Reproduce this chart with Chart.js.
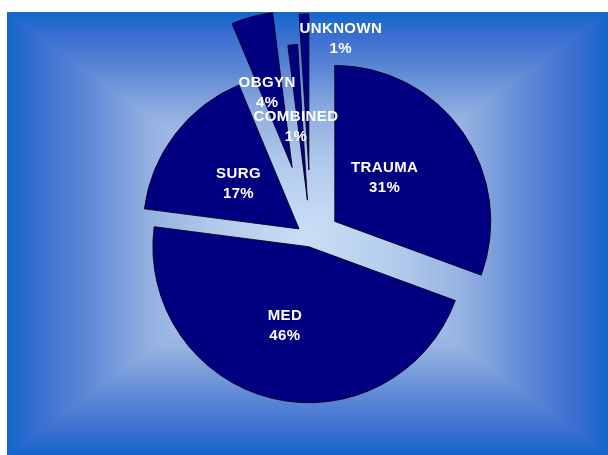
<!DOCTYPE html>
<html>
<head>
<meta charset="utf-8">
<script src="https://cdn.jsdelivr.net/npm/chart.js"></script>
<style>
  html, body { margin: 0; padding: 0; background: #ffffff; }
  body { width: 608px; height: 455px; position: relative; overflow: hidden; }
  #wrap { position: absolute; left: 7px; top: 12px; width: 601px; height: 443px; }
</style>
</head>
<body>
<div id="wrap"><canvas id="c"></canvas></div>
<script>
// ---- data ----
const categories = ["TRAUMA", "MED", "SURG", "OBGYN", "COMBINED", "UNKNOWN"];
const shares = [30.6, 46.45, 16.65, 4.3, 1.0, 1.0];

// ---- styles ----
const explodePx = [29, 9, 15, 73, 38, 68];
const labelDist = [66, 83, 75.7, 78.8, 73.8, 135];
const labelShiftDeg = [-6.0, 3.0, -0.5, -3.6, -3.5, 15.5];
const sliceColor = "#000080";

// Explode slices as a pure shift (no radius growth / angle shrink)
const ArcEl = Chart.ArcElement || (Chart.elements && Chart.elements.ArcElement);
const baseArcDraw = ArcEl.prototype.draw;
ArcEl.prototype.draw = function (ctx) {
  const opts = this.options;
  const o = (opts.offset || 0) / 4;
  const mid = (this.startAngle + this.endAngle) / 2;
  ctx.save();
  ctx.translate(Math.cos(mid) * o, Math.sin(mid) * o);
  this.options = Object.assign({}, opts, { offset: 0 });
  baseArcDraw.call(this, ctx);
  this.options = opts;
  ctx.restore();
};

const bgPlugin = {
  id: "rectGradient",
  beforeDraw(chart) {
    const ctx = chart.ctx;
    const w = chart.width, h = chart.height;
    const cx = w / 2, cy = h / 2;
    const stops = [
      [0, "#1466cc"], [0.11, "#3a6fd0"], [0.23, "#5682d5"],
      [0.34, "#7197da"], [0.48, "#94b1e1"], [0.7, "#b2cbec"], [1, "#cadff5"]
    ];
    const tri = (pts, x0, y0, x1, y1) => {
      const g = ctx.createLinearGradient(x0, y0, x1, y1);
      stops.forEach(s => g.addColorStop(s[0], s[1]));
      ctx.fillStyle = g;
      ctx.strokeStyle = g;
      ctx.lineWidth = 1.5;
      ctx.beginPath();
      ctx.moveTo(pts[0][0], pts[0][1]);
      for (let i = 1; i < pts.length; i++) ctx.lineTo(pts[i][0], pts[i][1]);
      ctx.closePath();
      ctx.fill();
      ctx.stroke();
    };
    ctx.save();
    tri([[0, 0], [w, 0], [cx, cy]], 0, 0, 0, cy);
    tri([[0, h], [w, h], [cx, cy]], 0, h, 0, cy);
    tri([[0, 0], [0, h], [cx, cy]], 0, 0, cx, 0);
    tri([[w, 0], [w, h], [cx, cy]], w, 0, cx, 0);
    ctx.restore();
  }
};

const labelPlugin = {
  id: "sliceLabels",
  afterDatasetsDraw(chart) {
    const ctx = chart.ctx;
    const meta = chart.getDatasetMeta(0);
    const total = shares.reduce((a, b) => a + b, 0);
    ctx.save();
    ctx.fillStyle = "#ffffff";
    ctx.font = "bold 15px 'Liberation Sans', Arial, sans-serif";
    if ("letterSpacing" in ctx) ctx.letterSpacing = "0.4px";
    ctx.textAlign = "center";
    ctx.textBaseline = "middle";
    meta.data.forEach((arc, i) => {
      const mid = (arc.startAngle + arc.endAngle) / 2;
      const t = (arc.options.offset || 0) / 4;
      const ax = arc.x + Math.cos(mid) * t;
      const ay = arc.y + Math.sin(mid) * t;
      const a = mid + labelShiftDeg[i] * Math.PI / 180;
      const lx = ax + Math.cos(a) * labelDist[i];
      const ly = ay + Math.sin(a) * labelDist[i];
      const pct = Math.round(shares[i] / total * 100) + "%";
      ctx.fillText(categories[i], lx, ly - 10);
      ctx.fillText(pct, lx, ly + 10);
    });
    ctx.restore();
  }
};

new Chart(document.getElementById("c"), {
  type: "pie",
  data: {
    labels: categories,
    datasets: [{
      data: shares,
      backgroundColor: sliceColor,
      borderColor: "rgba(0,0,20,0.85)",
      borderWidth: 1,
      borderJoinStyle: "miter",
      offset: explodePx.map(v => v * 4)
    }]
  },
  options: {
    responsive: true,
    maintainAspectRatio: false,
    animation: false,
    events: [],
    radius: 156,
    rotation: 0,
    layout: { padding: { left: 7, right: 0, top: 9, bottom: 0 } },
    plugins: {
      legend: { display: false },
      tooltip: { enabled: false },
      title: { display: false }
    }
  },
  plugins: [bgPlugin, labelPlugin]
});
</script>
</body>
</html>
